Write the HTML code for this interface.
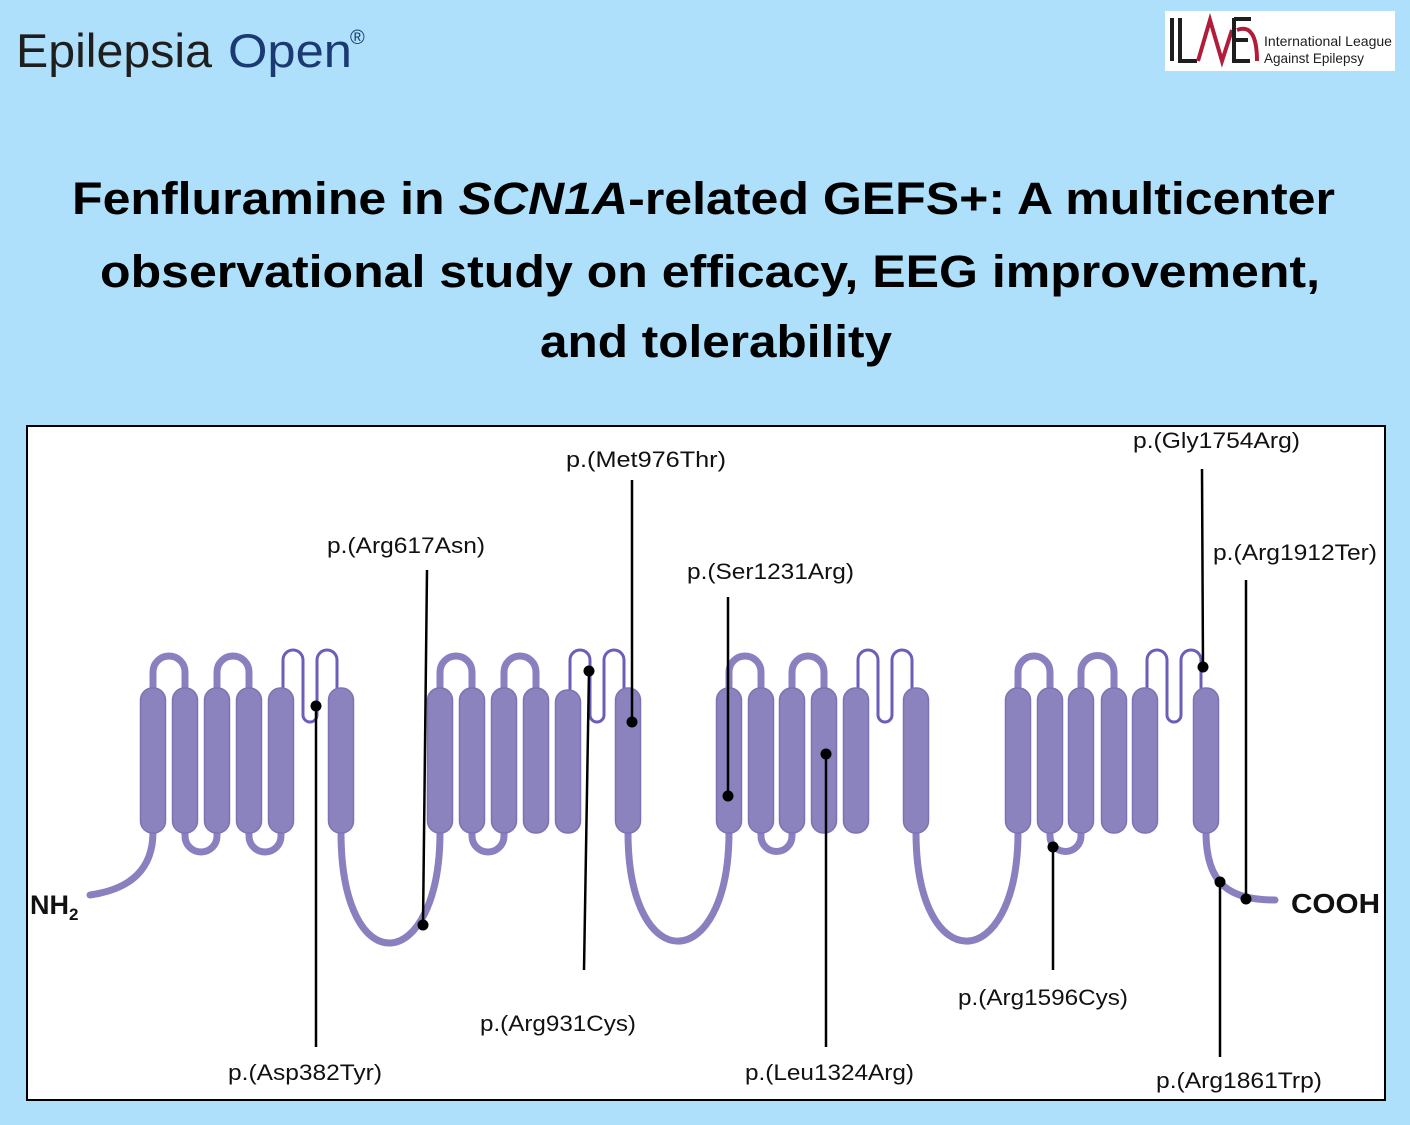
<!DOCTYPE html>
<html><head><meta charset="utf-8"><style>html,body{margin:0;padding:0;background:#aee0fb}svg{display:block}</style></head>
<body>
<svg width="1410" height="1125" viewBox="0 0 1410 1125" xmlns="http://www.w3.org/2000/svg" font-family="Liberation Sans, sans-serif">
<rect width="1410" height="1125" fill="#aee0fb"/>
<!-- header -->
<text x="16" y="67" font-size="47" fill="#1e1e1e" textLength="196" lengthAdjust="spacingAndGlyphs">Epilepsia</text>
<text x="228" y="67" font-size="47" fill="#1b3a73" textLength="124" lengthAdjust="spacingAndGlyphs">Open</text>
<text x="350" y="44" font-size="20" fill="#1b3a73">®</text>
<rect x="1165" y="11" width="230" height="60" fill="#fff"/>
<g stroke-width="4" fill="none">
<path d="M1172 18 V61" stroke="#1e1e1e"/>
<path d="M1180 18 V61 H1197" stroke="#1e1e1e"/>
<path d="M1198 61 L1210 20 L1222 61 L1232 30" stroke="#b01c3a"/>
<path d="M1234 18 V61 H1250 M1234 40 H1248 M1234 19 H1251" stroke="#1e1e1e"/>
<path d="M1237 30 C1250 25,1257 35,1257 61" stroke="#b01c3a"/>
</g>
<text x="1264" y="46" font-size="14" fill="#1e1e1e" textLength="128" lengthAdjust="spacingAndGlyphs">International League</text>
<text x="1264" y="63" font-size="14" fill="#1e1e1e" textLength="100" lengthAdjust="spacingAndGlyphs">Against Epilepsy</text>
<!-- title -->
<g font-weight="bold" font-size="45" fill="#000">
<text x="72" y="214" textLength="1263" lengthAdjust="spacingAndGlyphs">Fenfluramine in <tspan font-style="italic">SCN1A</tspan>-related GEFS+: A multicenter</text>
<text x="100" y="287" textLength="1220" lengthAdjust="spacingAndGlyphs">observational study on efficacy, EEG improvement,</text>
<text x="540" y="357" textLength="352" lengthAdjust="spacingAndGlyphs">and tolerability</text>
</g>
<!-- box -->
<rect x="27" y="426" width="1358" height="674" fill="#fff" stroke="#000" stroke-width="2"/>
<!-- linkers -->
<g fill="none" stroke="#8a80c0" stroke-width="7" stroke-linecap="round">
<path d="M90 895 C132 889,153 868,153 832"/>
<path d="M341 832 C341 985,440 975,440 832"/>
<path d="M628 832 C628 980,729 975,729 832"/>
<path d="M916 832 C916 980,1018 975,1018 832"/>
<path d="M1206 832 C1206 885,1230 900,1275 900"/>
<!-- top loops -->
<path d="M153 690 V672 A16 16 0 0 1 185 672 V690 M217 690 V672 A16 16 0 0 1 249 672 V690"/>
<path d="M440 690 V672 A16 16 0 0 1 472 672 V690 M504 690 V672 A16 16 0 0 1 536 672 V690"/>
<path d="M729 690 V672 A16 16 0 0 1 761 672 V690 M792 690 V672 A16 16 0 0 1 824 672 V690"/>
<path d="M1018 690 V672 A16 16 0 0 1 1050 672 V690 M1081 690 V672 A16.5 16.5 0 0 1 1114 672 V690"/>
<!-- bottom loops -->
<path d="M185 830 V836 A16 16 0 0 0 217 836 V830 M249 830 V836 A16 16 0 0 0 281 836 V830"/>
<path d="M472 830 V836 A16 16 0 0 0 504 836 V830"/>
<path d="M761 830 V836 A15.5 15.5 0 0 0 792 836 V830"/>
<path d="M1050 830 V836 A15.5 15.5 0 0 0 1081 836 V830"/>
</g>
<!-- P loops -->
<g fill="none" stroke="#6a5fb8" stroke-width="3">
<path d="M283 690 V660 A10 10 0 0 1 303 660 V715 A7 7 0 0 0 317 715 V660 A10 10 0 0 1 337 660 V690"/>
<path d="M570 690 V660 A10 10 0 0 1 590 660 V715 A7 7 0 0 0 604 715 V660 A10 10 0 0 1 624 660 V690"/>
<path d="M858 690 V660 A10 10 0 0 1 878 660 V715 A7 7 0 0 0 892 715 V660 A10 10 0 0 1 912 660 V690"/>
<path d="M1147 690 V660 A10 10 0 0 1 1167 660 V715 A7 7 0 0 0 1181 715 V660 A10 10 0 0 1 1201 660 V690"/>
</g>
<!-- helices -->
<g fill="#8b83bd" stroke="#7d73b4" stroke-width="1.5">
<rect x="140.5" y="688" width="25" height="145" rx="12"/><rect x="172.5" y="688" width="25" height="145" rx="12"/><rect x="204.5" y="688" width="25" height="145" rx="12"/><rect x="236.5" y="688" width="25" height="145" rx="12"/><rect x="268.5" y="688" width="25" height="145" rx="12"/><rect x="328.5" y="688" width="25" height="145" rx="12"/>
<rect x="427.5" y="688" width="25" height="145" rx="12"/><rect x="459.5" y="688" width="25" height="145" rx="12"/><rect x="491.5" y="688" width="25" height="145" rx="12"/><rect x="523.5" y="688" width="25" height="145" rx="12"/><rect x="555.5" y="690" width="25" height="143" rx="12"/><rect x="615.5" y="688" width="25" height="145" rx="12"/>
<rect x="716.5" y="688" width="25" height="145" rx="12"/><rect x="748.5" y="688" width="25" height="145" rx="12"/><rect x="779.5" y="688" width="25" height="145" rx="12"/><rect x="811.5" y="688" width="25" height="145" rx="12"/><rect x="843.5" y="688" width="25" height="145" rx="12"/><rect x="903.5" y="688" width="25" height="145" rx="12"/>
<rect x="1005.5" y="688" width="25" height="145" rx="12"/><rect x="1037.5" y="688" width="25" height="145" rx="12"/><rect x="1068.5" y="688" width="25" height="145" rx="12"/><rect x="1101.5" y="688" width="25" height="145" rx="12"/><rect x="1132.5" y="688" width="25" height="145" rx="12"/><rect x="1193.5" y="688" width="25" height="145" rx="12"/>
</g>
<!-- mutation lines -->
<g stroke="#000" stroke-width="2.5" fill="none">
<path d="M316 706 V1047"/>
<path d="M423 925 L427 570"/>
<path d="M632 722 V480"/>
<path d="M589 671 L584 970"/>
<path d="M728 796 V597"/>
<path d="M826 754 V1047"/>
<path d="M1053 847 V970"/>
<path d="M1203 667 L1202 469"/>
<path d="M1246 899 V580"/>
<path d="M1220 882 V1057"/>
</g>
<g fill="#000">
<circle cx="316" cy="706" r="5.5"/><circle cx="423" cy="925" r="5.5"/><circle cx="632" cy="722" r="5.5"/><circle cx="589" cy="671" r="5.5"/><circle cx="728" cy="796" r="5.5"/><circle cx="826" cy="754" r="5.5"/><circle cx="1053" cy="847" r="5.5"/><circle cx="1203" cy="667" r="5.5"/><circle cx="1246" cy="899" r="5.5"/><circle cx="1220" cy="882" r="5.5"/>
</g>
<g font-size="22" fill="#111" lengthAdjust="spacingAndGlyphs">
<text x="228" y="1080" textLength="154" lengthAdjust="spacingAndGlyphs">p.(Asp382Tyr)</text>
<text x="327" y="553" textLength="158" lengthAdjust="spacingAndGlyphs">p.(Arg617Asn)</text>
<text x="566" y="467" textLength="160" lengthAdjust="spacingAndGlyphs">p.(Met976Thr)</text>
<text x="480" y="1031" textLength="156" lengthAdjust="spacingAndGlyphs">p.(Arg931Cys)</text>
<text x="687" y="579" textLength="167" lengthAdjust="spacingAndGlyphs">p.(Ser1231Arg)</text>
<text x="745" y="1080" textLength="169" lengthAdjust="spacingAndGlyphs">p.(Leu1324Arg)</text>
<text x="958" y="1005" textLength="170" lengthAdjust="spacingAndGlyphs">p.(Arg1596Cys)</text>
<text x="1133" y="448" textLength="167" lengthAdjust="spacingAndGlyphs">p.(Gly1754Arg)</text>
<text x="1213" y="560" textLength="164" lengthAdjust="spacingAndGlyphs">p.(Arg1912Ter)</text>
<text x="1156" y="1088" textLength="166" lengthAdjust="spacingAndGlyphs">p.(Arg1861Trp)</text>
</g>
<text x="30" y="914" font-size="27" font-weight="bold" fill="#111">NH<tspan font-size="17" dy="6">2</tspan></text>
<text x="1291" y="913" font-size="28" font-weight="bold" fill="#111" textLength="89" lengthAdjust="spacingAndGlyphs">COOH</text>
</svg>
</body></html>
